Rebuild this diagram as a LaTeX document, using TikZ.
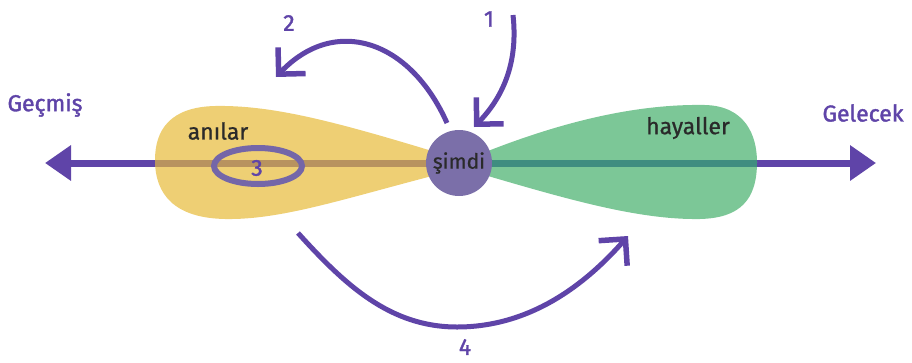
\documentclass[tikz,border=0pt]{standalone}
\usepackage{fontspec}
\setmainfont{Fira Sans}
\newfontfamily\heavyfont[FakeBold=1.6]{Fira Sans}
\newfontfamily\midfont[FakeBold=0.8]{Fira Sans}
\usetikzlibrary{arrows.meta}
\definecolor{timepurple}{HTML}{5F44A8}
\definecolor{nowpurple}{HTML}{7B6FA9}
\definecolor{ringpurple}{HTML}{7466A8}
\definecolor{pastyellow}{HTML}{EECF74}
\definecolor{pastline}{HTML}{B8935F}
\definecolor{futuregreen}{HTML}{7CC797}
\definecolor{futureline}{HTML}{3F8D80}
\definecolor{labeltext}{HTML}{2A2A2A}

\tikzset{
  timeaxis/.style={draw=timepurple, line width=7pt,
    {Triangle[length=26pt,width=34pt]}-{Triangle[length=26pt,width=34pt]}},
  moveline/.style={draw=timepurple, line width=5pt,
    -{Straight Barb[length=19pt,width=38pt,line width=5.5pt]}},
  sidelabel/.style={text=timepurple, font=\heavyfont\fontsize{23}{27}\selectfont},
  lobelabel/.style={text=labeltext, font=\midfont\fontsize{23}{27}\selectfont},
  steplabel/.style={text=timepurple, font=\heavyfont\fontsize{23}{27}\selectfont},
  nowdot/.style={circle, fill=nowpurple, minimum size=66pt, inner sep=0pt,
    text=labeltext, font=\midfont\fontsize{21}{25}\selectfont},
}

\begin{document}
\begin{tikzpicture}[x=1pt, y=-1pt]
  \useasboundingbox (0,0) rectangle (912,362);

  % time axis
  \coordinate (past) at (45,163);
  \coordinate (future) at (876,163);
  \draw[timeaxis] (past) -- (future);

  % memories and dreams
  \fill[pastyellow] (432,151) .. controls (330,120) and (270,105) .. (215,106)
    .. controls (170,107) and (155,130) .. (155,160)
    .. controls (155,195) and (175,218) .. (225,219)
    .. controls (280,220) and (340,200) .. (432,176) -- cycle;
  \fill[futuregreen] (488,151) .. controls (580,115) and (650,104) .. (705,105)
    .. controls (745,106) and (757,135) .. (757,162)
    .. controls (757,200) and (740,218) .. (700,219)
    .. controls (640,220) and (570,200) .. (488,176) -- cycle;
  \draw[pastline, line width=7pt] (155,163) -- (440,163);
  \draw[futureline, line width=7pt] (478,163) -- (757,163);

  \draw[ringpurple, line width=6pt] (258,166) ellipse [x radius=44pt, y radius=18pt];
  \node[steplabel] (three) at (257,168) {3};

  \node[nowdot] (now) at (459,163) {şimdi};

  \node[sidelabel] (pastlabel) at (45,105) {Geçmiş};
  \node[sidelabel] (futurelabel) at (863,113) {Gelecek};
  \node[lobelabel] (memories) at (218,131) {anılar};
  \node[lobelabel] (dreams) at (688,128) {hayaller};

  % movements
  \coordinate (oneA) at (513,15);
  \coordinate (oneB) at (474,127);
  \coordinate (twoA) at (447,123);
  \coordinate (twoB) at (276,77);
  \coordinate (fourA) at (298,233);
  \coordinate (fourM) at (457,327);
  \coordinate (fourB) at (628,236);
  \draw[moveline] (oneA) .. controls (518,60) and (505,95) .. (oneB);
  \draw[moveline] (twoA) .. controls (410,40) and (335,15) .. (twoB);
  \draw[moveline] (fourA) .. controls (345,285) and (390,327) .. (fourM)
    .. controls (530,327) and (585,285) .. (fourB);

  \node[steplabel] (one) at (489,19) {1};
  \node[steplabel] (two) at (289,23) {2};
  \node[steplabel] (four) at (465,347) {4};
\end{tikzpicture}
\end{document}
